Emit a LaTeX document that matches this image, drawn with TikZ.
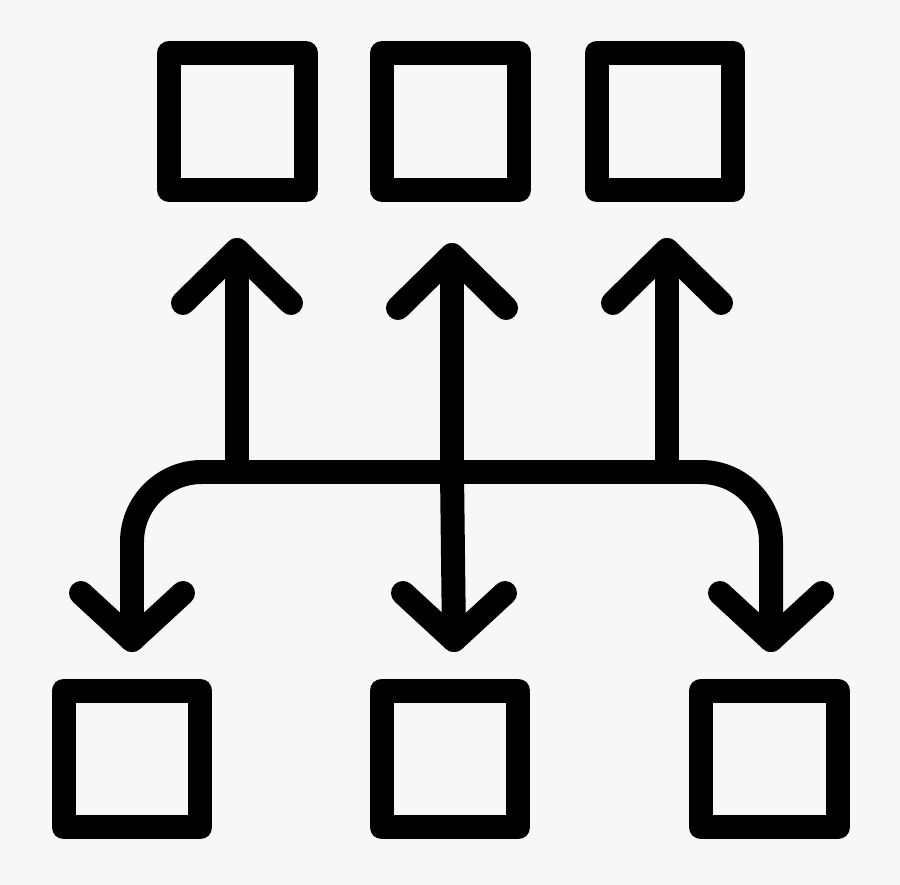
\documentclass[tikz,border=0pt]{standalone}
\usepackage{xcolor}
\usetikzlibrary{positioning,calc}
\definecolor{bggray}{RGB}{247,247,247}

\begin{document}
\begin{tikzpicture}[x=0.02cm, y=-0.02cm]
\tikzstyle{box}=[draw, line width=0.48cm, line join=round, minimum size=2.74cm, inner sep=0pt]
\tikzstyle{lne}=[line width=0.48cm, line cap=round, line join=round]

\fill[bggray] (0,0) rectangle (900,885);

\node[box] (T1) at (237.5,121.5) {};
\node[box] (T2) at (450.5,121.5) {};
\node[box] (T3) at (665,121.5) {};
\node[box] (B1) at (132,759) {};
\node[box] (B2) at (450,759) {};
\node[box] (B3) at (769.5,759) {};

% arrow tips
\coordinate (u1) at (237,250);
\coordinate (u2) at (452,255);
\coordinate (u3) at (667,250);
\coordinate (d1) at (132,640);
\coordinate (d2) at (454,640);
\coordinate (d3) at (771,640);
% bar
\coordinate (j1) at (237,472);
\coordinate (j2) at (452,472);
\coordinate (j3) at (667,472);
\coordinate (cl) at (132,472);
\coordinate (cr) at (771,472);

\draw[lne, rounded corners=1.4cm] (d1) -- (cl) -- (cr) -- (d3);
\draw[lne] (j1) -- (u1);
\draw[lne] (j2) -- (u2);
\draw[lne] (j3) -- (u3);
\draw[lne] (j2) -- (d2);

\draw[lne] (u1) ++(-54,53) -- (u1) -- ++(54,53);
\draw[lne] (u2) ++(-54,53) -- (u2) -- ++(54,53);
\draw[lne] (u3) ++(-54,53) -- (u3) -- ++(54,53);
\draw[lne] (d1) ++(-51,-47) -- (d1) -- ++(51,-47);
\draw[lne] (d2) ++(-51,-47) -- (d2) -- ++(51,-47);
\draw[lne] (d3) ++(-51,-47) -- (d3) -- ++(51,-47);
\end{tikzpicture}
\end{document}
